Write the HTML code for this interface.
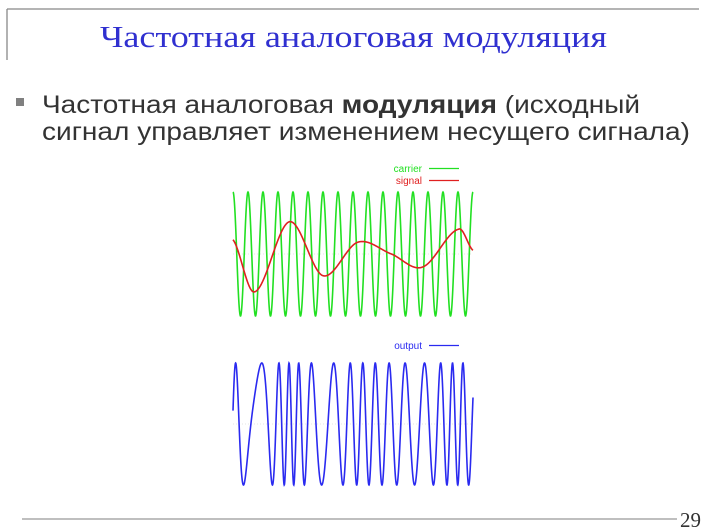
<!DOCTYPE html>
<html><head><meta charset="utf-8"><style>
html,body{margin:0;padding:0;background:#fff;width:711px;height:530px;overflow:hidden}
svg{display:block}
</style></head><body>
<svg id="root" width="711" height="530" viewBox="0 0 711 530" xmlns="http://www.w3.org/2000/svg">
<rect width="711" height="530" fill="#fff"/>
<g stroke="#888" stroke-width="1.3" fill="none">
<line x1="7" y1="9" x2="699" y2="9"/><line x1="7" y1="9" x2="7" y2="60"/>
</g>
<text x="100" y="47" textLength="507" lengthAdjust="spacingAndGlyphs" font-family="Liberation Serif, serif" font-size="31" fill="#3030d0">Частотная аналоговая модуляция</text>
<rect x="16" y="98" width="8" height="8" fill="#808080"/>
<text x="42" y="113" textLength="598" lengthAdjust="spacingAndGlyphs" font-family="Liberation Sans, sans-serif" font-size="25" fill="#333">Частотная аналоговая <tspan font-weight="bold">модуляция</tspan> (исходный</text>
<text x="42" y="140" textLength="648" lengthAdjust="spacingAndGlyphs" font-family="Liberation Sans, sans-serif" font-size="25" fill="#333">сигнал управляет изменением несущего сигнала)</text>
<g id="charts"></g>
<line x1="22" y1="519" x2="677" y2="519" stroke="#999" stroke-width="1.3"/>
<text x="680" y="527" font-family="Liberation Serif, serif" font-size="21" fill="#333">29</text>
</svg>
<script>
// data
const carrierCycles = 16;
const signalPos = [0, 0.09, 0.235, 0.375, 0.52, 0.66, 0.79, 0.94, 1.0];
const signalVal = [0.23, -0.61, 0.52, -0.35, 0.19, 0.0, -0.21, 0.40, 0.06];
const freqDeviation = 1.15;
const outputPhase0 = -1.35;

const NS = 'http://www.w3.org/2000/svg';
const g = document.getElementById('charts');
const X0 = 233, X1 = 473;
const xs = t => X0 + t * (X1 - X0);
const yTop = v => 254 - v * 62;
const yBot = v => 424 - v * 61;

function sig(t) {
  t = Math.max(0, Math.min(1, t));
  let i = 0;
  while (i < signalPos.length - 2 && t > signalPos[i + 1]) i++;
  const p0 = signalVal[Math.max(i - 1, 0)], p1 = signalVal[i], p2 = signalVal[i + 1], p3 = signalVal[Math.min(i + 2, signalVal.length - 1)];
  const u = (t - signalPos[i]) / (signalPos[i + 1] - signalPos[i]);
  return 0.5 * ((2 * p1) + (-p0 + p2) * u + (2 * p0 - 5 * p1 + 4 * p2 - p3) * u * u + (-p0 + 3 * p1 - 3 * p2 + p3) * u * u * u);
}
function mk(tag, attrs) { const e = document.createElementNS(NS, tag); for (const k in attrs) e.setAttribute(k, attrs[k]); g.appendChild(e); return e; }

let z1 = mk('line', {x1: X0, x2: X1, y1: 254, y2: 254, stroke: '#ccc', 'stroke-width': 0.6, 'stroke-dasharray': '1,2'});


let z2 = mk('line', {x1: X0, x2: X1, y1: 424, y2: 424, stroke: '#ccc', 'stroke-width': 0.6, 'stroke-dasharray': '1,2'});



const N = 1200;
let dc = '', ds = '', dout = '', phase = outputPhase0;
for (let k = 0; k <= N; k++) {
  const t = k / N;
  const x = xs(t).toFixed(2);
  dc += (k ? 'L' : 'M') + x + ',' + yTop(Math.cos(2 * Math.PI * carrierCycles * t)).toFixed(2);
  ds += (k ? 'L' : 'M') + x + ',' + yTop(sig(t)).toFixed(2);
  if (k) phase += 2 * Math.PI * carrierCycles * Math.max(0.3, 1 + freqDeviation * sig(t)) / N;
  dout += (k ? 'L' : 'M') + x + ',' + yBot(Math.cos(phase)).toFixed(2);
}
let c = mk('path', {d: dc, fill: 'none', stroke: '#22e022', 'stroke-width': 1.6});


let s = mk('path', {d: ds, fill: 'none', stroke: '#e02020', 'stroke-width': 1.6});


let o = mk('path', {d: dout, fill: 'none', stroke: '#2a2af0', 'stroke-width': 1.6});



function legend(label, color, y, name) {
  const t = mk('text', {x: 422, y: y, 'text-anchor': 'end', 'font-family': 'Liberation Sans, sans-serif', 'font-size': 10, fill: color});
  t.textContent = label;
  
  
  const l = mk('line', {x1: 429, x2: 459, y1: y - 3.5, y2: y - 3.5, stroke: color, 'stroke-width': 1.3});
  
  
}
legend('carrier', '#22e022', 172, 'carrier');
legend('signal', '#e02020', 184, 'signal');
legend('output', '#2a2af0', 349, 'output');
</script>
</body></html>
